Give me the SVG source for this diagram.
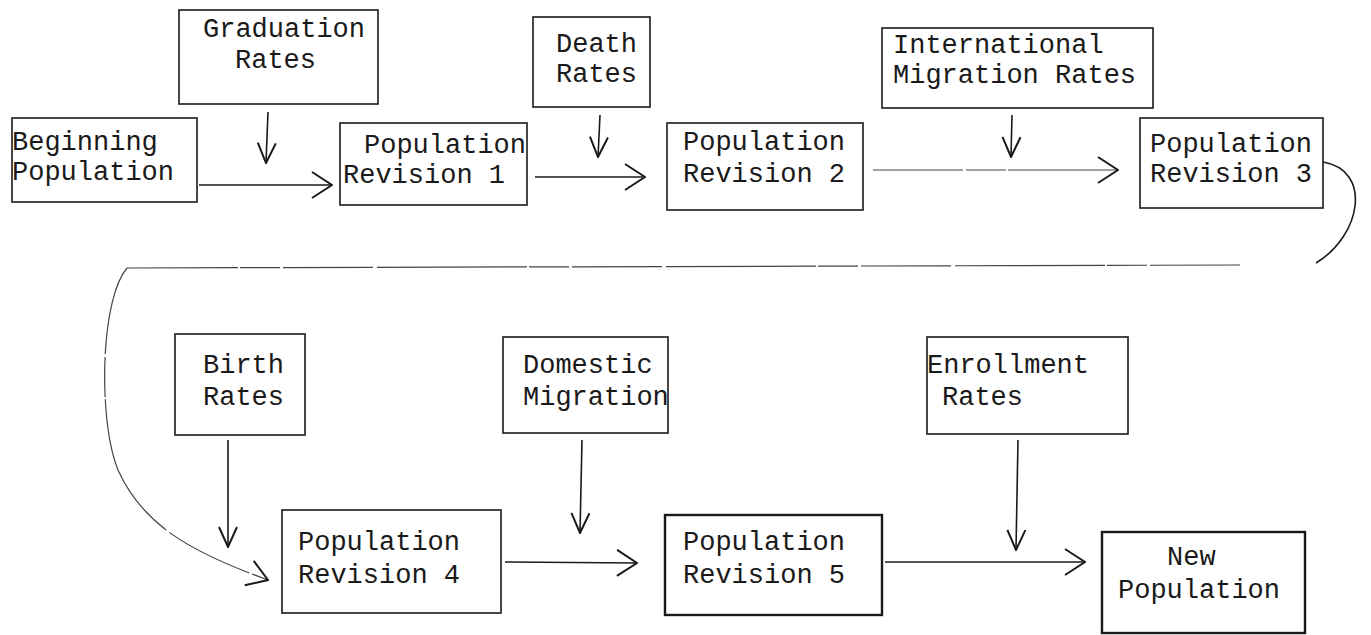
<svg xmlns="http://www.w3.org/2000/svg" width="1371" height="635" viewBox="0 0 1371 635">
<defs>
<style>
.box{fill:none;stroke:#1a1a1a;stroke-width:1.6}
.bold{stroke-width:2.4}
.t{font-family:"Liberation Mono","DejaVu Sans Mono",monospace;font-size:27px;fill:#1a1a1a}
.c{fill:none;stroke:#1a1a1a;stroke-width:1.6}
.faint{stroke:#444;stroke-width:1.2;stroke-dasharray:90 3 40 2 150 4}
</style>
<marker id="ah" viewBox="0 0 22 30" refX="21" refY="15" markerWidth="22" markerHeight="30" markerUnits="userSpaceOnUse" orient="auto">
<path d="M1,2 L21,15 L1,28" fill="none" stroke="#1a1a1a" stroke-width="2"/>
</marker>
<marker id="av" viewBox="0 0 22 22" refX="21" refY="11" markerWidth="22" markerHeight="22" markerUnits="userSpaceOnUse" orient="auto">
<path d="M1,2 L21,11 L1,20" fill="none" stroke="#1a1a1a" stroke-width="2"/>
</marker>
</defs>
<rect width="1371" height="635" fill="#ffffff"/>

<g id="graduation-rates">
<rect class="box" x="179" y="10" width="199" height="94"/>
<text class="t" x="203" y="37">Graduation</text>
<text class="t" x="235" y="68">Rates</text>
</g>
<g id="beginning-population">
<rect class="box" x="12" y="118" width="185" height="84"/>
<text class="t" x="12" y="150">Beginning</text>
<text class="t" x="12" y="180">Population</text>
</g>
<g id="population-revision-1">
<rect class="box" x="340" y="123" width="187" height="82"/>
<text class="t" x="364" y="153">Population</text>
<text class="t" x="343" y="183">Revision 1</text>
</g>
<g id="death-rates">
<rect class="box" x="533" y="17" width="117" height="90"/>
<text class="t" x="556" y="52">Death</text>
<text class="t" x="556" y="82">Rates</text>
</g>
<g id="population-revision-2">
<rect class="box" x="667" y="123" width="196" height="87"/>
<text class="t" x="683" y="150">Population</text>
<text class="t" x="683" y="182">Revision 2</text>
</g>
<g id="international-migration-rates">
<rect class="box" x="882" y="28" width="271" height="80"/>
<text class="t" x="893" y="53">International</text>
<text class="t" x="893" y="83">Migration Rates</text>
</g>
<g id="population-revision-3">
<rect class="box" x="1140" y="118" width="183" height="90"/>
<text class="t" x="1150" y="152">Population</text>
<text class="t" x="1150" y="182">Revision 3</text>
</g>
<g id="birth-rates">
<rect class="box" x="175" y="334" width="130" height="101"/>
<text class="t" x="203" y="373">Birth</text>
<text class="t" x="203" y="405">Rates</text>
</g>
<g id="domestic-migration">
<rect class="box" x="503" y="337" width="165" height="96"/>
<text class="t" x="523" y="373">Domestic</text>
<text class="t" x="523" y="405">Migration</text>
</g>
<g id="enrollment-rates">
<rect class="box" x="927" y="337" width="201" height="97"/>
<text class="t" x="927" y="373">Enrollment</text>
<text class="t" x="942" y="405">Rates</text>
</g>
<g id="population-revision-4">
<rect class="box" x="282" y="510" width="219" height="103"/>
<text class="t" x="298" y="550">Population</text>
<text class="t" x="298" y="583">Revision 4</text>
</g>
<g id="population-revision-5">
<rect class="box bold" x="665" y="515" width="217" height="100"/>
<text class="t" x="683" y="550">Population</text>
<text class="t" x="683" y="583">Revision 5</text>
</g>
<g id="new-population">
<rect class="box bold" x="1102" y="532" width="203" height="101"/>
<text class="t" x="1167" y="565">New</text>
<text class="t" x="1118" y="598">Population</text>
</g>

<g id="connectors">
<path class="c" d="M199,185 L332,185" marker-end="url(#ah)"/>
<path class="c" d="M268,112 L266,163" marker-end="url(#av)"/>
<path class="c" d="M535,177 L645,177" marker-end="url(#ah)"/>
<path class="c" d="M600,115 L598,157" marker-end="url(#av)"/>
<path class="c faint" d="M873,170 L1118,170" marker-end="url(#ah)"/>
<path class="c" d="M1012,115 L1011,157" marker-end="url(#av)"/>
<path class="c" d="M1323,162 C1372,170 1362,235 1316,263"/>
<path class="c faint" d="M1240,265 L127,268"/>
<path class="c faint" d="M127,268 C100,300 98,420 118,470 C145,530 200,555 268,580" marker-end="url(#ah)"/>
<path class="c" d="M228,440 L228,547" marker-end="url(#av)"/>
<path class="c" d="M505,562 L637,563" marker-end="url(#ah)"/>
<path class="c" d="M582,440 L580,533" marker-end="url(#av)"/>
<path class="c" d="M885,562 L1085,562" marker-end="url(#ah)"/>
<path class="c" d="M1018,440 L1016,550" marker-end="url(#av)"/>
</g>
</svg>
